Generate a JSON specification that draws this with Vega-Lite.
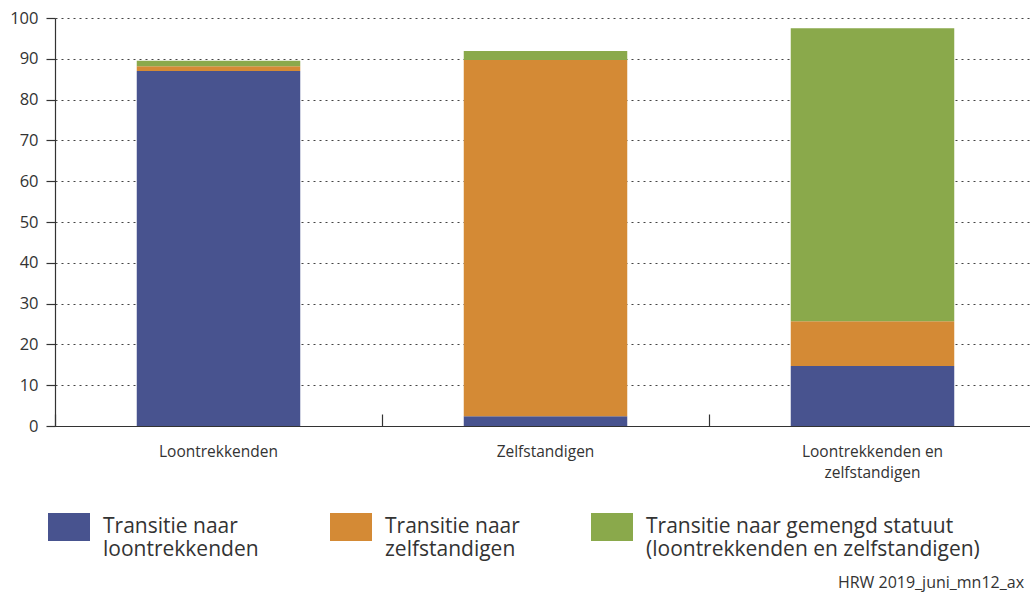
{
  "$schema": "https://vega.github.io/schema/vega-lite/v6.json",
  "width": 981,
  "height": 408,
  "autosize": "none",
  "padding": {"left": 55, "top": 18, "right": 0, "bottom": 169},
  "background": "white",
  "title": {
    "text": "HRW 2019_juni_mn12_ax",
    "orient": "bottom",
    "anchor": "end",
    "fontSize": 16,
    "font": "Open Sans",
    "fontWeight": "normal",
    "color": "#333333",
    "offset": 15,
    "dx": -12
  },
  "data": {
    "values": [
      {"categorie": "Loontrekkenden", "reeks": "Transitie naar loontrekkenden", "volgorde": 1, "waarde": 87.0},
      {"categorie": "Loontrekkenden", "reeks": "Transitie naar zelfstandigen", "volgorde": 2, "waarde": 1.2},
      {"categorie": "Loontrekkenden", "reeks": "Transitie naar gemengd statuut (loontrekkenden en zelfstandigen)", "volgorde": 3, "waarde": 1.3},
      {"categorie": "Zelfstandigen", "reeks": "Transitie naar loontrekkenden", "volgorde": 1, "waarde": 2.4},
      {"categorie": "Zelfstandigen", "reeks": "Transitie naar zelfstandigen", "volgorde": 2, "waarde": 87.3},
      {"categorie": "Zelfstandigen", "reeks": "Transitie naar gemengd statuut (loontrekkenden en zelfstandigen)", "volgorde": 3, "waarde": 2.2},
      {"categorie": "Loontrekkenden en zelfstandigen", "reeks": "Transitie naar loontrekkenden", "volgorde": 1, "waarde": 14.7},
      {"categorie": "Loontrekkenden en zelfstandigen", "reeks": "Transitie naar zelfstandigen", "volgorde": 2, "waarde": 11.0},
      {"categorie": "Loontrekkenden en zelfstandigen", "reeks": "Transitie naar gemengd statuut (loontrekkenden en zelfstandigen)", "volgorde": 3, "waarde": 71.8}
    ]
  },
  "mark": {"type": "bar"},
  "encoding": {
    "x": {
      "field": "categorie",
      "type": "nominal",
      "sort": ["Loontrekkenden", "Zelfstandigen", "Loontrekkenden en zelfstandigen"],
      "scale": {"paddingInner": 0.5, "paddingOuter": 0.25},
      "axis": {
        "title": null,
        "labelAngle": 0,
        "labelFont": "Open Sans",
        "labelFontSize": 15.5,
        "labelColor": "#333333",
        "labelExpr": "datum.label == 'Loontrekkenden en zelfstandigen' ? ['Loontrekkenden en', 'zelfstandigen'] : datum.label",
        "labelLineHeight": 21,
        "labelBaseline": "top",
        "bandPosition": -0.5,
        "tickSize": -12,
        "tickColor": "#333333",
        "tickWidth": 1.2,
        "labelPadding": 30,
        "domainColor": "#333333",
        "domainWidth": 1.2,
        "grid": false
      }
    },
    "y": {
      "field": "waarde",
      "type": "quantitative",
      "stack": "zero",
      "scale": {"domain": [0, 100], "nice": false},
      "axis": {
        "title": null,
        "values": [0, 10, 20, 30, 40, 50, 60, 70, 80, 90, 100],
        "labelFont": "Open Sans",
        "labelFontSize": 16.5,
        "labelColor": "#333333",
        "labelPadding": 8,
        "tickSize": 9,
        "tickColor": "#333333",
        "tickWidth": 1.2,
        "domainColor": "#333333",
        "domainWidth": 1.2,
        "grid": true,
        "gridColor": "#444444",
        "gridDash": [2, 4],
        "gridWidth": 1
      }
    },
    "color": {
      "field": "reeks",
      "type": "nominal",
      "scale": {
        "domain": ["Transitie naar loontrekkenden", "Transitie naar zelfstandigen", "Transitie naar gemengd statuut (loontrekkenden en zelfstandigen)"],
        "range": ["#48538f", "#d48a35", "#8aa94b"]
      },
      "legend": {
        "title": null,
        "orient": "none",
        "direction": "horizontal",
        "legendX": -7,
        "legendY": 488,
        "symbolType": "M-1,-0.667H1V0.667H-1Z",
        "symbolSize": 1764,
        "symbolStrokeWidth": 0,
        "symbolOpacity": 1,
        "labelFont": "Open Sans",
        "labelFontSize": 21,
        "labelColor": "#333333",
        "labelLimit": 400,
        "labelOffset": 13,
        "labelLineHeight": 27,
        "columnPadding": 71,
        "labelExpr": "datum.label == 'Transitie naar loontrekkenden' ? ['Transitie naar', 'loontrekkenden'] : datum.label == 'Transitie naar zelfstandigen' ? ['Transitie naar', 'zelfstandigen'] : ['Transitie naar gemengd statuut', '(loontrekkenden en zelfstandigen)']"
      }
    },
    "order": {"field": "volgorde", "type": "quantitative"}
  },
  "config": {
    "view": {"stroke": null},
    "font": "Open Sans"
  }
}
